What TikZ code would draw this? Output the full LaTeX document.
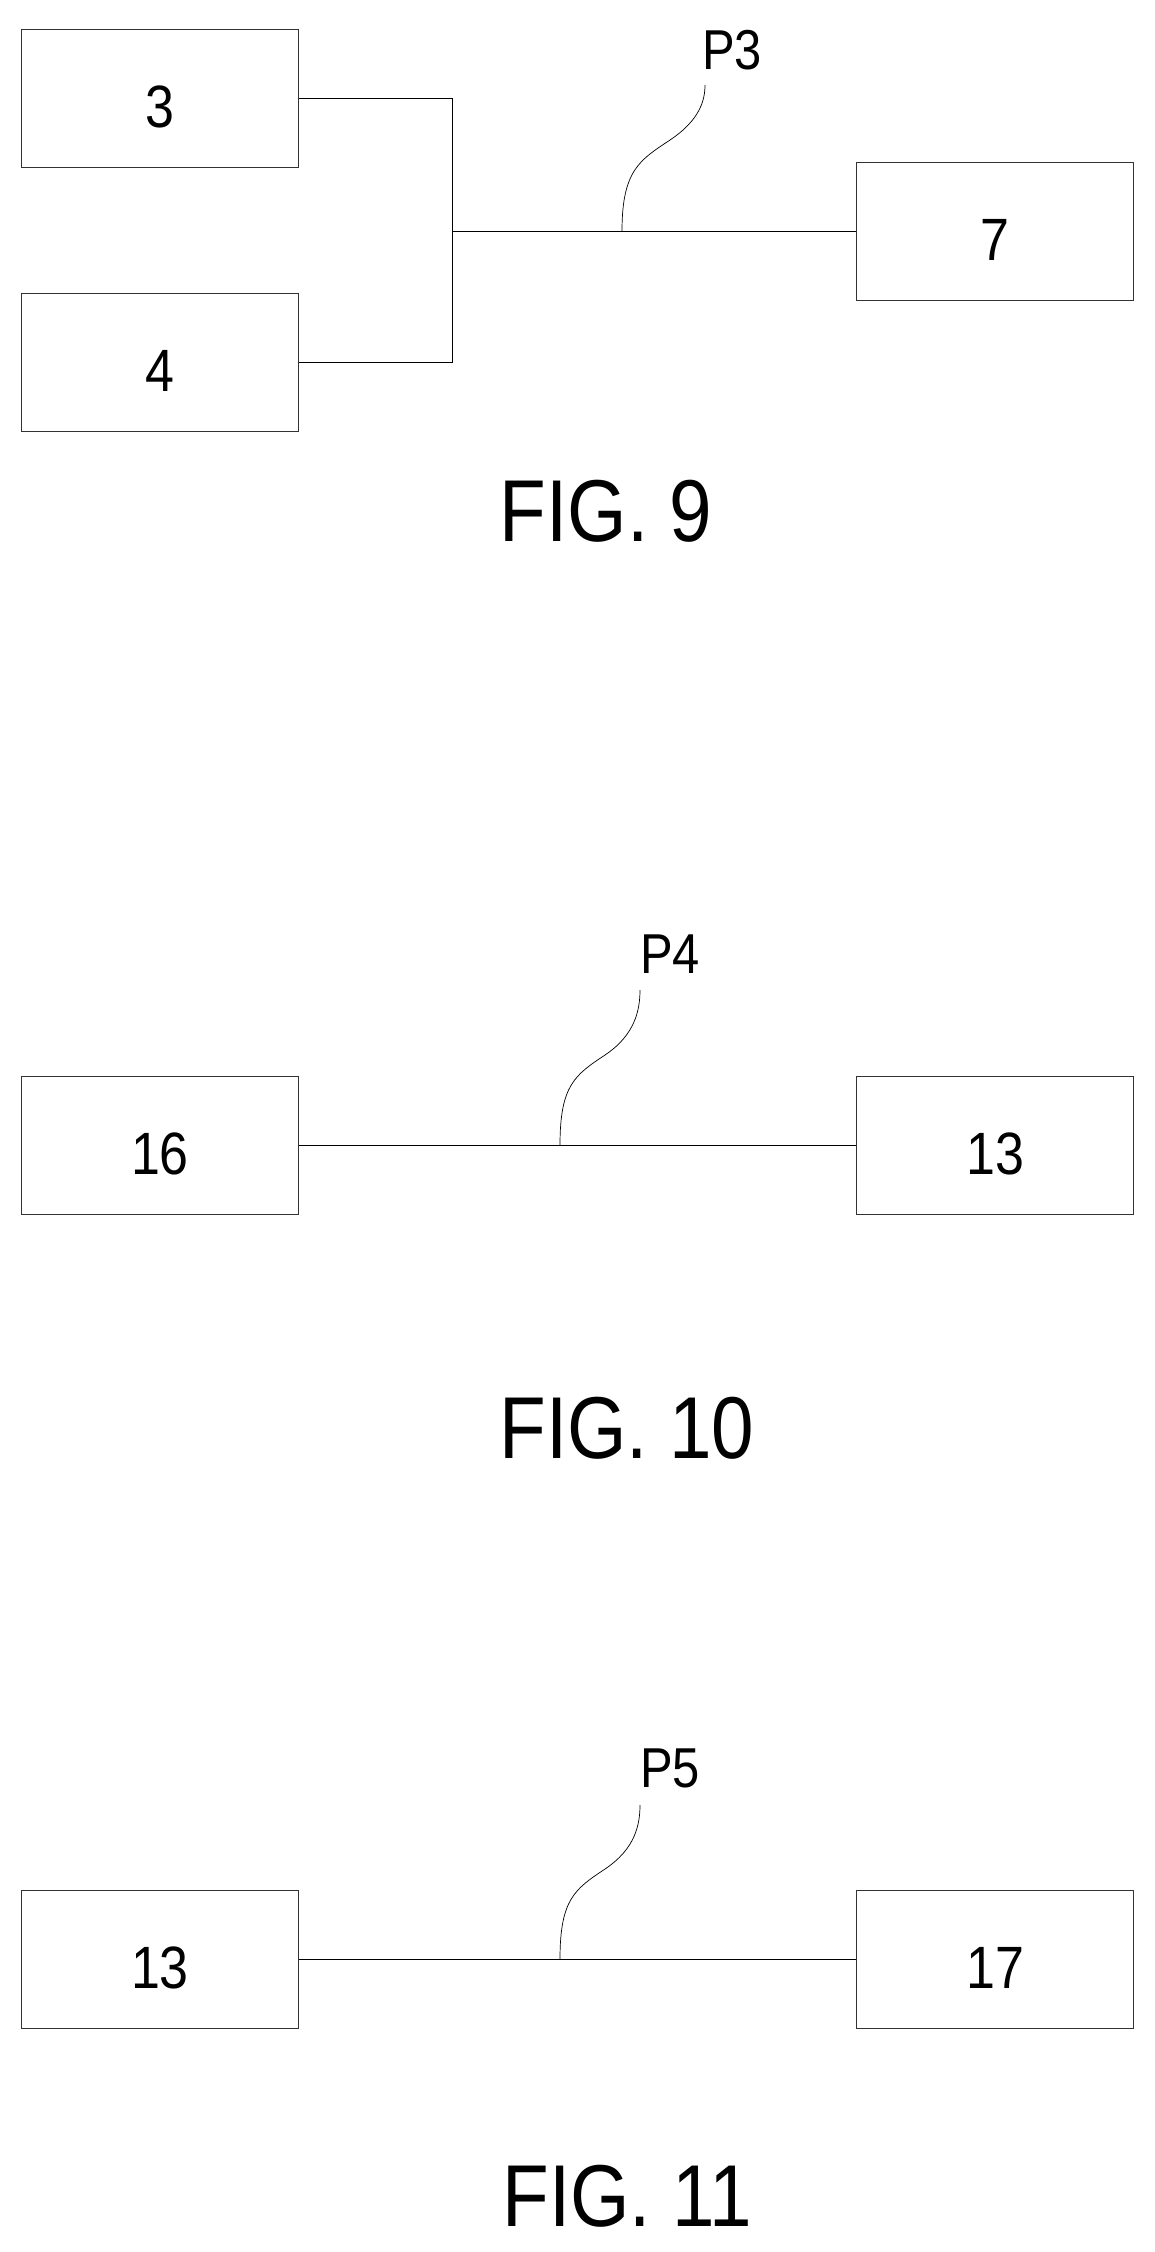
\documentclass[tikz,border=0pt]{standalone}
\usepackage{fontspec}
\usepackage{graphicx}
\setmainfont{Liberation Sans}
\newcommand{\narrow}[1]{\scalebox{0.87}[1]{#1}}
\newcommand{\unitlabel}[1]{\raisebox{-0.18cm}[\height][0pt]{\narrow{#1}}}
\tikzstyle{unit} = [rectangle, draw=black!80, thin, minimum width=5.54cm, minimum height=2.76cm, font=\fontsize{34}{40}\selectfont, inner sep=0pt]
\tikzstyle{link} = [thin, color=black]
\tikzstyle{tag} = [font=\fontsize{32}{38}\selectfont]
\tikzstyle{caption} = [font=\fontsize{50}{60}\selectfont]

\begin{document}
\begin{tikzpicture}[x=0.02cm, y=-0.02cm]
\useasboundingbox (0,0) rectangle (1155,2252);
% Fig. 9
\node (b3) [unit] at (160,98) {\unitlabel{3}};
\node (b4) [unit] at (160,362) {\unitlabel{4}};
\node (b7) [unit] at (995,231) {\unitlabel{7}};
\coordinate (j) at (452,231);
\coordinate (p3foot) at (622,231);
\node (p3) [tag] at (732,50) {\narrow{P3}};
\draw[link] (b3.east) -| (j);
\draw[link] (b4.east) -| (j);
\draw[link] (j) -- (b7.west);
\draw[link] (p3foot) .. controls (622,170) and (640,160) .. (670,140) .. controls (700,120) and (705,100) .. (705,85);
\node (fig9) [caption] at (606,511) {\narrow{FIG. 9}};

% Fig. 10
\node (b16) [unit] at (160,1145) {\unitlabel{16}};
\node (b13a) [unit] at (995,1145) {\unitlabel{13}};
\node (p4) [tag] at (670,954) {\narrow{P4}};
\coordinate (p4foot) at (560,1145);
\draw[link] (b16) -- (b13a);
\draw[link] (p4foot) .. controls (560,1085) and (575,1075) .. (605,1055) .. controls (635,1035) and (640,1010) .. (640,990);
\node (fig10) [caption] at (627,1428) {\narrow{FIG. 10}};

% Fig. 11
\node (b13b) [unit] at (160,1959) {\unitlabel{13}};
\node (b17) [unit] at (995,1959) {\unitlabel{17}};
\node (p5) [tag] at (670,1768) {\narrow{P5}};
\coordinate (p5foot) at (560,1959);
\draw[link] (b13b) -- (b17);
\draw[link] (p5foot) .. controls (560,1899) and (575,1889) .. (605,1869) .. controls (635,1849) and (640,1825) .. (640,1805);
\node (fig11) [caption] at (627,2196) {\narrow{FIG. 11}};
\end{tikzpicture}
\end{document}
